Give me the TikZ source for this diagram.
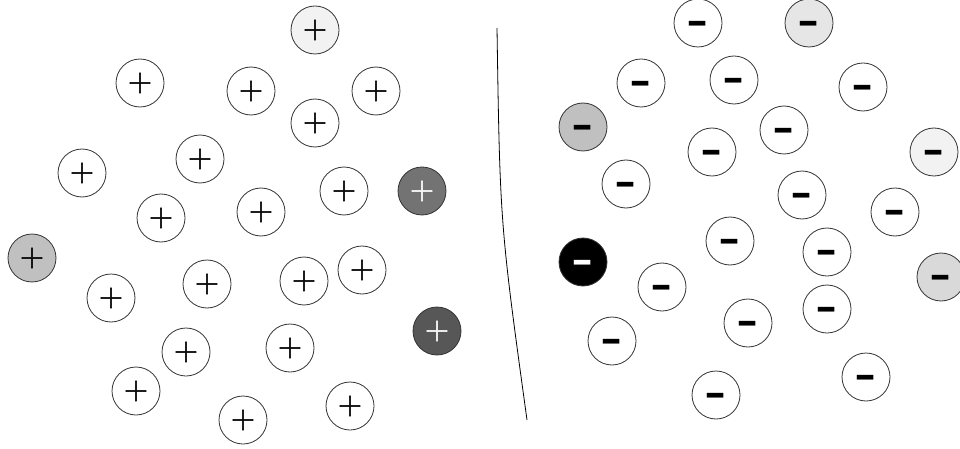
\documentclass[tikz,border=0pt]{standalone}
\usepackage{fontspec}
\usepackage{graphicx}
\newfontfamily\djv{DejaVu Sans}
\definecolor{gA}{HTML}{F2F2F2}
\definecolor{gB}{HTML}{E6E6E6}
\definecolor{gC}{HTML}{D9D9D9}
\definecolor{gD}{HTML}{C0C0C0}
\definecolor{gE}{HTML}{737373}
\definecolor{gF}{HTML}{575757}
\newcommand{\possign}{\special{pdf:literal direct 2 Tr 0.6 w}+\special{pdf:literal direct 0 Tr}}
\newcommand{\negsign}{\raisebox{-0.58em}[0pt][0pt]{\scalebox{1.1}[1.7]{\djv\bfseries −}}}
\begin{document}
\begin{tikzpicture}[x=1pt,y=-1pt,
  charge/.style={circle, draw=black!80, line width=0.8pt, minimum size=48pt, inner sep=0pt, fill=white},
  poscharge/.style={charge, font=\fontsize{33}{33}\selectfont},
  negcharge/.style={charge, font=\fontsize{24}{24}\selectfont},
  boundary/.style={draw=black, line width=0.8pt}]
\useasboundingbox (0,0) rectangle (960,449);
% positive charges
\node[poscharge, fill=gA] (p1) at (315,30) {\possign};
\node[poscharge] (p2) at (140,83) {\possign};
\node[poscharge] (p3) at (251,91) {\possign};
\node[poscharge] (p4) at (376,91) {\possign};
\node[poscharge] (p5) at (315,123) {\possign};
\node[poscharge] (p6) at (200,159) {\possign};
\node[poscharge] (p7) at (82,173) {\possign};
\node[poscharge] (p8) at (344,191) {\possign};
\node[poscharge, fill=gE, text=white] (p9) at (422,191) {\possign};
\node[poscharge] (p10) at (161,218) {\possign};
\node[poscharge] (p11) at (261,212) {\possign};
\node[poscharge, fill=gD] (p12) at (32,258) {\possign};
\node[poscharge] (p13) at (207,284) {\possign};
\node[poscharge] (p14) at (304,281) {\possign};
\node[poscharge] (p15) at (362,270) {\possign};
\node[poscharge] (p16) at (111,298) {\possign};
\node[poscharge, fill=gF, text=white] (p17) at (437,331) {\possign};
\node[poscharge] (p18) at (186,352) {\possign};
\node[poscharge] (p19) at (290,348) {\possign};
\node[poscharge] (p20) at (136,391) {\possign};
\node[poscharge] (p21) at (243,420) {\possign};
\node[poscharge] (p22) at (350,406) {\possign};
% boundary
\coordinate (bt) at (497,28);
\coordinate (bb) at (527,420);
\draw[boundary] (bt) .. controls (500,224) .. (bb);
% negative charges
\node[negcharge] (n1) at (698,23) {\negsign};
\node[negcharge, fill=gB] (n2) at (809,23) {\negsign};
\node[negcharge] (n3) at (641,83) {\negsign};
\node[negcharge] (n4) at (734,80) {\negsign};
\node[negcharge] (n5) at (863,87) {\negsign};
\node[negcharge, fill=gD] (n6) at (583,127) {\negsign};
\node[negcharge] (n7) at (784,130) {\negsign};
\node[negcharge] (n8) at (712,152) {\negsign};
\node[negcharge, fill=gA] (n9) at (934,152) {\negsign};
\node[negcharge] (n10) at (626,184) {\negsign};
\node[negcharge] (n11) at (802,195) {\negsign};
\node[negcharge] (n12) at (895,212) {\negsign};
\node[negcharge, fill=black, text=white] (n13) at (583,262) {\negsign};
\node[negcharge] (n14) at (730,241) {\negsign};
\node[negcharge] (n15) at (827,252) {\negsign};
\node[negcharge, fill=gC] (n16) at (941,277) {\negsign};
\node[negcharge] (n17) at (662,287) {\negsign};
\node[negcharge] (n18) at (827,309) {\negsign};
\node[negcharge] (n19) at (748,323) {\negsign};
\node[negcharge] (n20) at (612,341) {\negsign};
\node[negcharge] (n21) at (866,377) {\negsign};
\node[negcharge] (n22) at (716,395) {\negsign};
\end{tikzpicture}
\end{document}
